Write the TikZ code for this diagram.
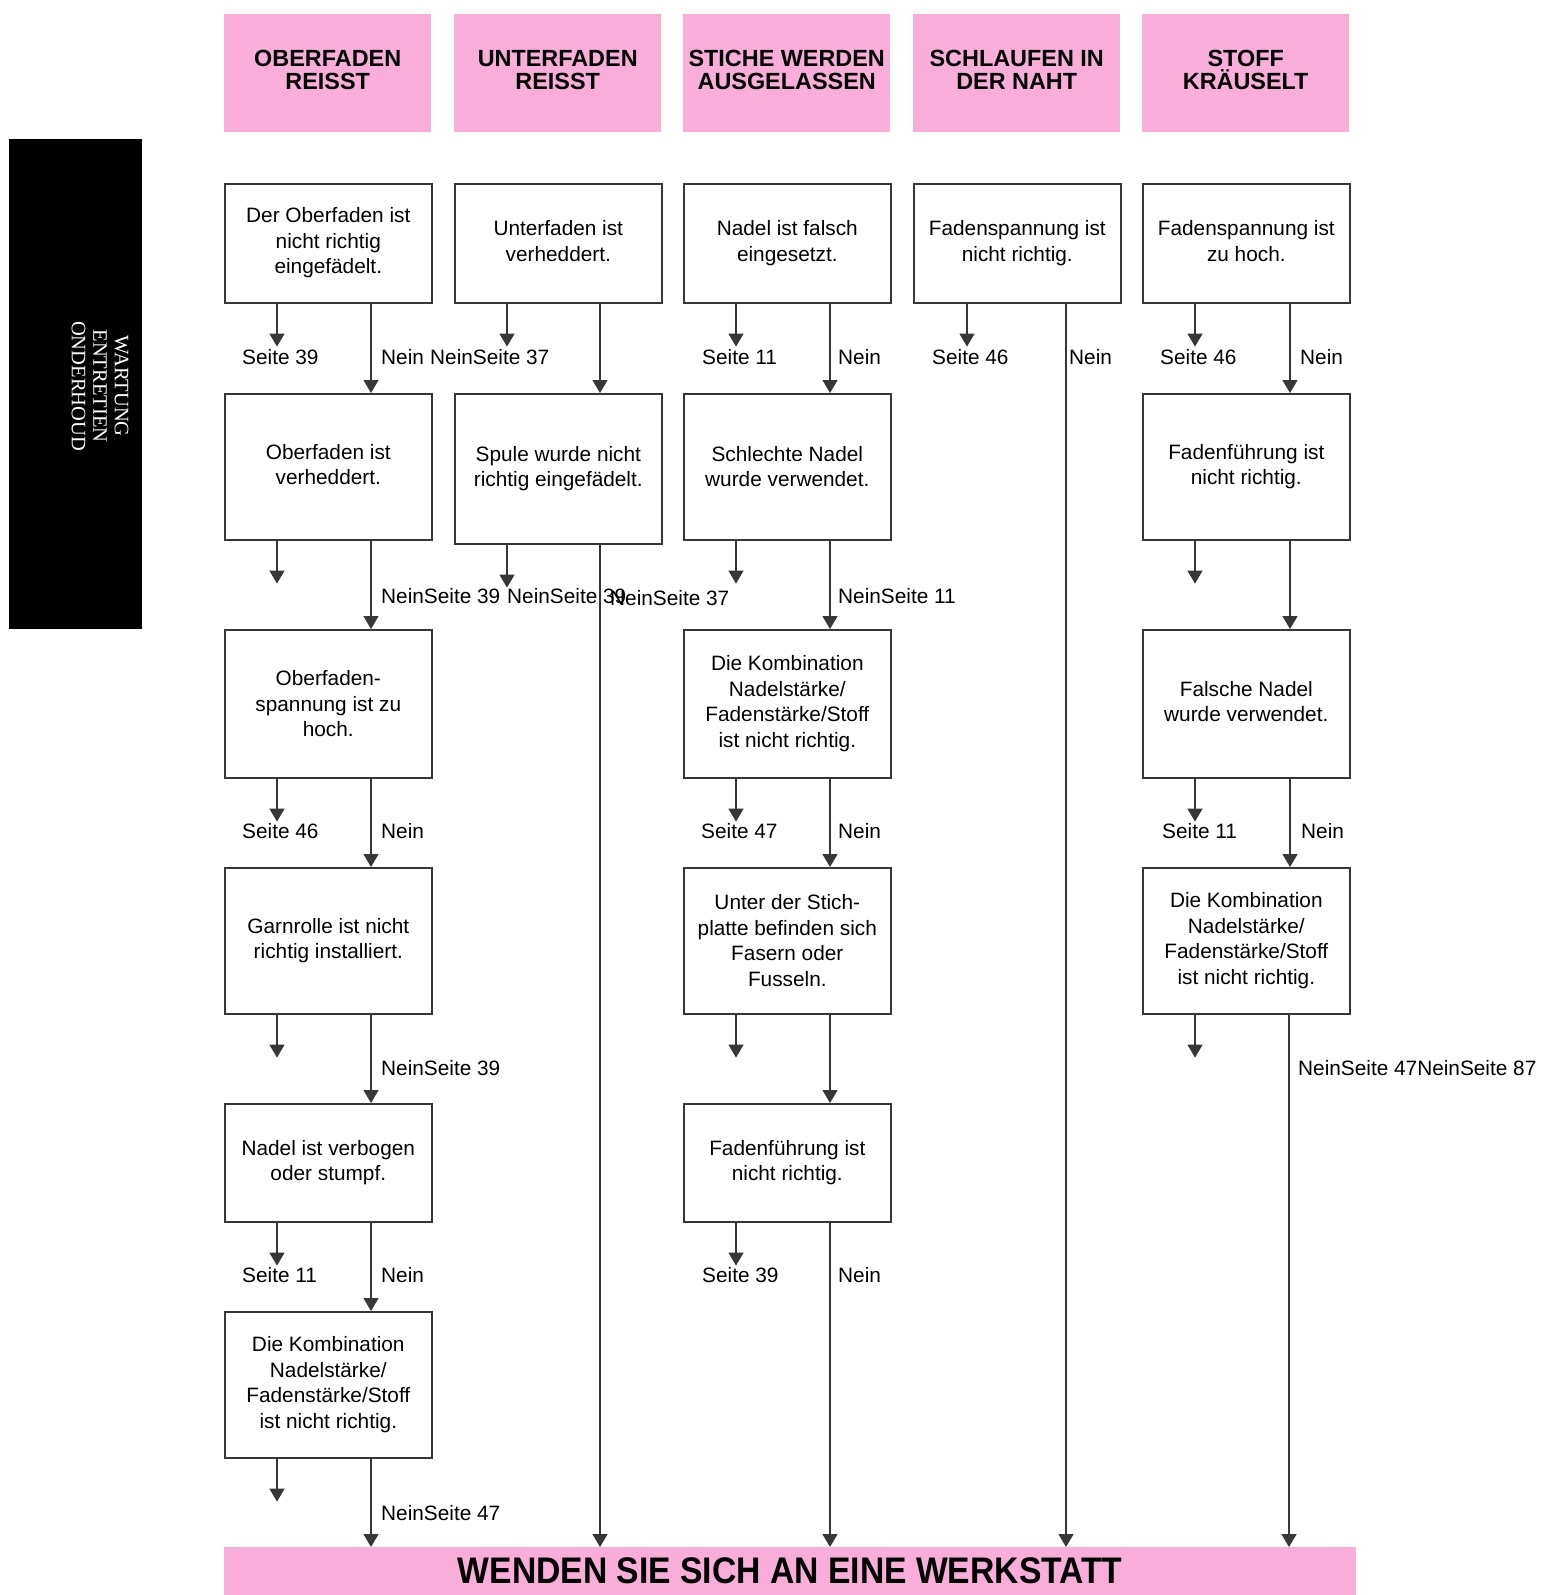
\documentclass[tikz,border=0pt]{standalone}
\usepackage{fontspec}
\setmainfont{Liberation Sans}
\newfontfamily\sidefont{Liberation Serif}
\usetikzlibrary{arrows.meta}
\definecolor{pinkhdr}{RGB}{249,174,217}
\definecolor{linegray}{RGB}{55,55,55}
\newcommand\yesarr[1]{\draw[arr] ([xshift=53pt]#1.south west) -- ++(0,43);}
\newcommand\noarr[3]{\draw[arr] ([xshift=#3pt]#1.south west) -- ([xshift=#3pt]#1.south west |- #2.north);}
\newcommand\up[2]{\raisebox{#1pt}{\begin{tabular}{@{}c@{}}#2\end{tabular}}}
\begin{document}
\begin{tikzpicture}[x=1pt,y=-1pt,
  box/.style={draw=linegray, line width=1.6pt, fill=white, align=center, inner sep=0pt, anchor=north west, minimum width=207pt, font=\fontsize{20.8}{25.5}\selectfont},
  hdr/.style={fill=pinkhdr, align=center, inner sep=0pt, anchor=north west, minimum width=207pt, minimum height=118pt, font=\fontsize{23.4}{23.4}\selectfont\bfseries},
  arr/.style={draw=linegray, line width=1.3pt, -{Triangle[width=15pt,length=13pt]}},
  lbl/.style={anchor=west, inner sep=0pt, font=\fontsize{20.8}{25}\selectfont},
]
\useasboundingbox (0,0) rectangle (1540,1595);

% side tab
\node[fill=black, anchor=north west, inner sep=0pt, minimum width=133pt, minimum height=490pt] (tab) at (9,139) {};
\node[rotate=-90, text=white, align=center, inner sep=0pt, font=\sidefont\fontsize{20.5}{21.5}\selectfont] (tabtxt) at (100,386) {WARTUNG\\ENTRETIEN\\ONDERHOUD};

% headers
\node[hdr] (h1) at (224,14) {\up{3}{OBERFADEN\\REISST}};
\node[hdr] (h2) at (454,14) {\up{3}{UNTERFADEN\\REISST}};
\node[hdr] (h3) at (683,14) {\up{3}{STICHE WERDEN\\AUSGELASSEN}};
\node[hdr] (h4) at (913,14) {\up{3}{SCHLAUFEN IN\\DER NAHT}};
\node[hdr] (h5) at (1142,14) {\up{3}{STOFF\\KR\smash{Ä}USELT}};

% bottom bar
\node[fill=pinkhdr, anchor=north west, inner sep=0pt, minimum width=1132pt, minimum height=48pt, font=\fontsize{37}{37}\selectfont\bfseries] (bar) at (224,1547) {\raisebox{-5pt}{\scalebox{0.91}[1]{WENDEN SIE SICH AN EINE WERKSTATT}}};

% column 1
\node[box, minimum height=119pt] (a1) at (224,183) {\up{4}{Der Oberfaden ist\\nicht richtig\\eingefädelt.}};
\node[box, minimum height=146pt] (a2) at (224,393) {\up{2}{Oberfaden ist\\verheddert.}};
\node[box, minimum height=148pt] (a3) at (224,629) {Oberfaden-\\spannung ist zu\\hoch.};
\node[box, minimum height=146pt] (a4) at (224,867) {\up{2}{Garnrolle ist nicht\\richtig installiert.}};
\node[box, minimum height=118pt] (a5) at (224,1103) {Nadel ist verbogen\\oder stumpf.};
\node[box, minimum height=146pt] (a6) at (224,1311) {Die Kombination\\Nadelstärke/\\Fadenstärke/Stoff\\ist nicht richtig.};

% column 2
\node[box, minimum height=119pt] (b1) at (454,183) {\up{4}{Unterfaden ist\\verheddert.}};
\node[box, minimum height=150pt] (b2) at (454,393) {\up{2}{Spule wurde nicht\\richtig eingefädelt.}};

% column 3
\node[box, minimum height=119pt] (c1) at (683,183) {\up{4}{Nadel ist falsch\\eingesetzt.}};
\node[box, minimum height=146pt] (c2) at (683,393) {Schlechte Nadel\\wurde verwendet.};
\node[box, minimum height=148pt] (c3) at (683,629) {Die Kombination\\Nadelstärke/\\Fadenstärke/Stoff\\ist nicht richtig.};
\node[box, minimum height=146pt] (c4) at (683,867) {Unter der Stich-\\platte befinden sich\\Fasern oder\\Fusseln.};
\node[box, minimum height=118pt] (c5) at (683,1103) {Fadenführung ist\\nicht richtig.};

% column 4
\node[box, minimum height=119pt] (d1) at (913,183) {\up{4}{Fadenspannung ist\\nicht richtig.}};

% column 5
\node[box, minimum height=119pt] (e1) at (1142,183) {\up{4}{Fadenspannung ist\\zu hoch.}};
\node[box, minimum height=146pt] (e2) at (1142,393) {\up{2}{Fadenführung ist\\nicht richtig.}};
\node[box, minimum height=148pt] (e3) at (1142,629) {\up{2}{Falsche Nadel\\wurde verwendet.}};
\node[box, minimum height=146pt] (e4) at (1142,867) {Die Kombination\\Nadelstärke/\\Fadenstärke/Stoff\\ist nicht richtig.};

% short arrows
\foreach \n in {a1,a2,a3,a4,a5,a6,b1,b2,c1,c2,c3,c4,c5,e1,e2,e3,e4} {\yesarr{\n}}
\draw[arr] ([xshift=54pt]d1.south west) -- ++(0,43);

% long arrows
\noarr{a1}{a2}{147} \noarr{a2}{a3}{147} \noarr{a3}{a4}{147}
\noarr{a4}{a5}{147} \noarr{a5}{a6}{147} \noarr{a6}{bar}{147}
\noarr{b1}{b2}{146} \noarr{b2}{bar}{146}
\noarr{c1}{c2}{147} \noarr{c2}{c3}{147} \noarr{c3}{c4}{147}
\noarr{c4}{c5}{147} \noarr{c5}{bar}{147}
\noarr{d1}{bar}{153}
\noarr{e1}{e2}{148} \noarr{e2}{e3}{148} \noarr{e3}{e4}{148} \noarr{e4}{bar}{147}

% labels row 1
\node[lbl] (t11) at (242,357) {Seite 39};
\node[lbl] (t12) at (381,357) {Nein};
\node[lbl] (t13) at (430,357) {NeinSeite 37};
\node[lbl] (t14) at (702,357) {Seite 11};
\node[lbl] (t15) at (838,357) {Nein};
\node[lbl] (t16) at (932,357) {Seite 46};
\node[lbl] (t17) at (1069,357) {Nein};
\node[lbl] (t18) at (1160,357) {Seite 46};
\node[lbl] (t19) at (1300,357) {Nein};
% labels row 2
\node[lbl] (t21) at (381,596) {NeinSeite 39};
\node[lbl] (t22) at (507,596) {NeinSeite 39};
\node[lbl] (t23) at (610,598) {NeinSeite 37};
\node[lbl] (t24) at (838,596) {NeinSeite 11};
% labels row 3
\node[lbl] (t31) at (242,831) {Seite 46};
\node[lbl] (t32) at (381,831) {Nein};
\node[lbl] (t33) at (701,831) {Seite 47};
\node[lbl] (t34) at (838,831) {Nein};
\node[lbl] (t35) at (1162,831) {Seite 11};
\node[lbl] (t36) at (1301,831) {Nein};
% labels row 4
\node[lbl] (t41) at (381,1068) {NeinSeite 39};
\node[lbl] (t42) at (1298,1068) {NeinSeite 47NeinSeite 87};
% labels row 5
\node[lbl] (t51) at (242,1275) {Seite 11};
\node[lbl] (t52) at (381,1275) {Nein};
\node[lbl] (t53) at (702,1275) {Seite 39};
\node[lbl] (t54) at (838,1275) {Nein};
% labels row 6
\node[lbl] (t61) at (381,1513) {NeinSeite 47};
\end{tikzpicture}
\end{document}
